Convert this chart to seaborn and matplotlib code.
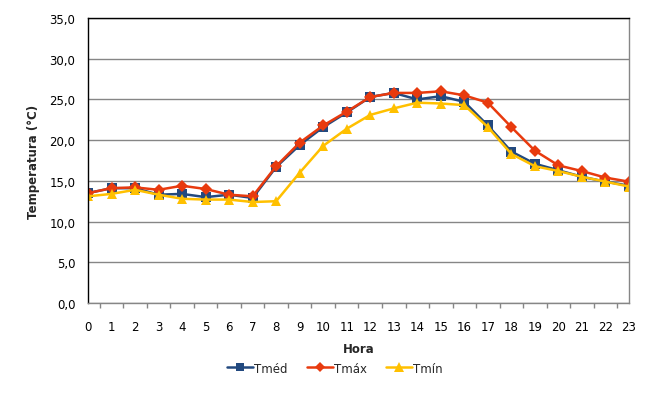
import matplotlib
matplotlib.use("Agg")
import matplotlib.pyplot as plt
import seaborn as sns
import pandas as pd
import numpy as np
from matplotlib.ticker import MultipleLocator, FuncFormatter
from matplotlib.lines import Line2D

hours = list(range(24))
t_med = [13.5, 14.1, 14.1, 13.3, 13.4, 13.0, 13.3, 12.9, 16.7, 19.4, 21.6, 23.4,
         25.3, 25.8, 25.0, 25.4, 24.7, 21.8, 18.6, 17.1, 16.3, 15.5, 14.9, 14.4]
t_max = [13.5, 14.1, 14.2, 13.9, 14.4, 14.0, 13.3, 13.1, 16.8, 19.7, 21.8, 23.5,
         25.3, 25.8, 25.8, 26.0, 25.5, 24.6, 21.6, 18.7, 16.9, 16.2, 15.4, 14.9]
t_min = [13.1, 13.4, 13.9, 13.3, 12.8, 12.7, 12.7, 12.4, 12.5, 16.0, 19.3, 21.4,
         23.1, 23.9, 24.6, 24.5, 24.3, 21.6, 18.3, 16.8, 16.2, 15.5, 14.9, 14.3]
series_names = ["Tméd", "Tmáx", "Tmín"]

df = pd.DataFrame({
    "Hora": hours * 3,
    "Temp": t_med + t_max + t_min,
    "Serie": [series_names[0]] * 24 + [series_names[1]] * 24 + [series_names[2]] * 24,
})

sns.set_theme(style="white")
plt.rcParams['font.family'] = ['DejaVu Sans']

fig = plt.figure(figsize=(6.63, 4.02), dpi=100)
ax = fig.add_axes([0.1327, 0.2438, 0.8160, 0.7089])

palette = {"Tméd": "#22497F", "Tmáx": "#E83A0E", "Tmín": "#FFC000"}
markers = {"Tméd": "s", "Tmáx": "D", "Tmín": "^"}
sizes = {"Tméd": 6.5, "Tmáx": 6.0, "Tmín": 7.0}

sns.lineplot(data=df, x="Hora", y="Temp", hue="Serie", style="Serie",
             markers=markers, dashes=False, palette=palette, ax=ax,
             linewidth=1.8, markeredgewidth=0, legend=False)
for line, name in zip(ax.lines, series_names):
    line.set_markersize(sizes[name])
    line.set_markeredgecolor(palette[name])

ax.set_xlim(0, 23)
ax.set_ylim(0, 35)
ax.yaxis.set_major_locator(MultipleLocator(5))
ax.yaxis.set_major_formatter(FuncFormatter(lambda v, p: f"{v:.1f}".replace(".", ",")))
ax.set_xticks(hours)
ax.set_xticks(np.arange(0, 23.01, 0.5), minor=True)
ax.grid(axis="y", color="#868686", linewidth=1.0)
ax.set_axisbelow(True)

ax.tick_params(axis="x", which="major", length=0, pad=12, labelsize=8.5, colors="black")
ax.tick_params(axis="x", which="minor", length=3.5, color="#868686", width=1, direction="out", bottom=True)
ax.tick_params(axis="y", length=0, pad=9, labelsize=8.5, colors="black")

ax.spines["left"].set_color("black")
ax.spines["top"].set_color("black")
ax.spines["bottom"].set_color("#868686")
ax.spines["right"].set_color("#868686")
for s in ax.spines.values():
    s.set_linewidth(1.0)

ax.set_xlabel("Hora", fontsize=8.5, fontweight="bold", labelpad=7)
ax.set_ylabel("Temperatura (°C)", fontsize=8.5, fontweight="bold", labelpad=7)

handles = [Line2D([0], [0], color=palette[n], marker=markers[n], markersize=sizes[n] - 0.5,
                  linewidth=1.8, markeredgewidth=0) for n in series_names]
fig.legend(handles, series_names, loc="center", bbox_to_anchor=(0.505, 0.082), ncol=3,
           frameon=False, fontsize=8.5, handlelength=2.2, handletextpad=0.1,
           columnspacing=1.6)

fig.savefig("out.png", dpi=100, facecolor="white")
